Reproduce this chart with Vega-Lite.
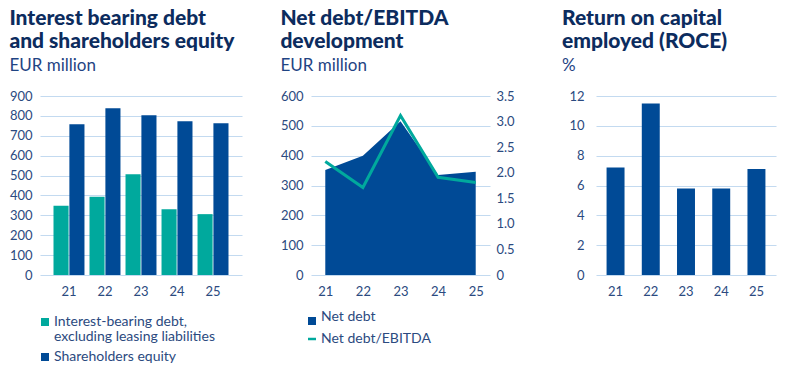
{
  "$schema": "https://vega.github.io/schema/vega-lite/v6.json",
  "padding": {"left": 9, "top": 8, "right": 5, "bottom": 5},
  "background": "white",
  "datasets": {
    "debt": [
      {"year": "21", "series": "debt", "value": 348},
      {"year": "21", "series": "equity", "value": 758},
      {"year": "22", "series": "debt", "value": 394},
      {"year": "22", "series": "equity", "value": 838},
      {"year": "23", "series": "debt", "value": 507},
      {"year": "23", "series": "equity", "value": 803},
      {"year": "24", "series": "debt", "value": 330},
      {"year": "24", "series": "equity", "value": 773},
      {"year": "25", "series": "debt", "value": 306},
      {"year": "25", "series": "equity", "value": 763}
    ],
    "nd": [
      {"year": "21", "netdebt": 352, "ratio": 2.22},
      {"year": "22", "netdebt": 400, "ratio": 1.71},
      {"year": "23", "netdebt": 515, "ratio": 3.12},
      {"year": "24", "netdebt": 335, "ratio": 1.91},
      {"year": "25", "netdebt": 346, "ratio": 1.81}
    ],
    "roce": [
      {"year": "21", "roce": 7.2},
      {"year": "22", "roce": 11.5},
      {"year": "23", "roce": 5.8},
      {"year": "24", "roce": 5.8},
      {"year": "25", "roce": 7.1}
    ]
  },
  "spacing": 38,
  "hconcat": [
    {
      "width": 202,
      "height": 179,
      "title": {"text": ["Interest bearing debt", "and shareholders equity"], "subtitle": "EUR million"},
      "data": {"name": "debt"},
      "mark": {"type": "bar"},
      "encoding": {
        "x": {"field": "year", "type": "ordinal", "scale": {"paddingInner": 0.14, "paddingOuter": 0.375}, "axis": {"title": null, "labelAngle": 0, "grid": false}},
        "xOffset": {"field": "series", "type": "nominal", "scale": {"paddingInner": 0.05}},
        "y": {"field": "value", "type": "quantitative", "scale": {"domain": [0, 900]}, "axis": {"title": null, "values": [0, 100, 200, 300, 400, 500, 600, 700, 800, 900], "minExtent": 30}},
        "color": {
          "field": "series", "type": "nominal",
          "scale": {"domain": ["debt", "equity"], "range": ["#00A99D", "#004A96"]},
          "legend": {
            "orient": "none", "legendX": -2, "legendY": 219, "direction": "vertical", "rowPadding": 6,
            "labelExpr": "datum.value == 'debt' ? ['Interest-bearing debt,', 'excluding leasing liabilities'] : 'Shareholders equity'",
            "encode": {"labels": {"update": {"dy": {"value": 4}, "lineHeight": {"value": 14.5}}}}
          }
        }
      }
    },
    {
      "width": 179,
      "height": 179,
      "title": {"text": ["Net debt/EBITDA", "development"], "subtitle": "EUR million"},
      "data": {"name": "nd"},
      "encoding": {
        "x": {"field": "year", "type": "point", "scale": {"padding": 0.38}, "axis": {"title": null, "labelAngle": 0, "grid": false}}
      },
      "layer": [
        {
          "mark": {"type": "area", "opacity": 1},
          "encoding": {
            "x": {"field": "year", "type": "ordinal"},
            "y": {"field": "netdebt", "type": "quantitative", "scale": {"domain": [0, 600]}, "axis": {"title": null, "values": [0, 100, 200, 300, 400, 500, 600], "minExtent": 30}},
            "fill": {"datum": "Net debt", "scale": {"range": ["#004A96"]}, "legend": {"orient": "none", "legendX": 265, "legendY": 218, "symbolType": "square", "encode": {"labels": {"update": {"dy": {"value": 4}}}}}}
          }
        },
        {
          "mark": {"type": "line", "strokeWidth": 3},
          "encoding": {
            "x": {"field": "year", "type": "ordinal"},
            "y": {"field": "ratio", "type": "quantitative", "scale": {"domain": [0, 3.5]}, "axis": {"title": null, "orient": "right", "grid": false, "values": [0, 0.5, 1, 1.5, 2, 2.5, 3, 3.5], "labelExpr": "datum.value == 0 ? '0' : format(datum.value, '.1f')", "labelPadding": 6, "minExtent": 30}},
            "stroke": {"datum": "Net debt/EBITDA", "scale": {"range": ["#00A99D"]}, "legend": {"orient": "none", "legendX": 265, "legendY": 236, "symbolType": "stroke", "symbolStrokeWidth": 2.5, "encode": {"labels": {"update": {"dy": {"value": 4}}}}}}
          }
        }
      ],
      "resolve": {"scale": {"y": "independent"}}
    },
    {
      "width": 180,
      "height": 179,
      "title": {"text": ["Return on capital", "employed (ROCE)"], "subtitle": "%", "dx": 4},
      "data": {"name": "roce"},
      "mark": {"type": "bar", "color": "#004A96"},
      "encoding": {
        "x": {"field": "year", "type": "ordinal", "scale": {"paddingInner": 0.49, "paddingOuter": 0.3}, "axis": {"title": null, "labelAngle": 0, "grid": false}},
        "y": {"field": "roce", "type": "quantitative", "scale": {"domain": [0, 12]}, "axis": {"title": null, "values": [0, 2, 4, 6, 8, 10, 12], "labelPadding": 12, "minExtent": 38}}
      }
    }
  ],
  "config": {
    "font": "Lato",
    "view": {"stroke": null},
    "axis": {
      "labelFont": "Lato", "labelFontSize": 13, "labelColor": "#2B4A80",
      "gridColor": "#C3DAF0", "gridWidth": 1.2, "domain": false, "ticks": false, "labelPadding": 8
    },
    "axisX": {"labelPadding": 10},
    "title": {
      "anchor": "start", "frame": "bounds", "font": "Lato", "fontSize": 21, "fontWeight": 900, "color": "#0C2C5E", "lineHeight": 23,
      "subtitleFont": "Lato", "subtitleFontSize": 17, "subtitleColor": "#1F4483", "subtitlePadding": 6, "offset": 16
    },
    "legend": {
      "labelFont": "Lato", "labelFontSize": 14, "labelColor": "#2B4A80", "symbolSize": 64, "padding": 0,
      "rowPadding": 5, "labelOffset": 2, "symbolStrokeWidth": 0, "title": null, "labelLimit": 300,
      "labelBaseline": "alphabetic"
    }
  }
}
